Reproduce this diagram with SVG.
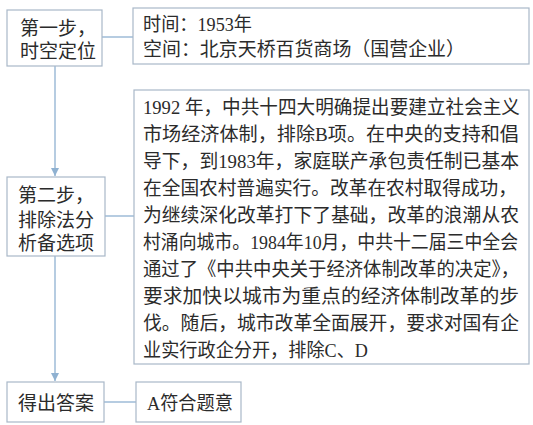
<svg xmlns="http://www.w3.org/2000/svg" width="533" height="425" viewBox="0 0 533 425">
<style>
.box{fill:#ffffff;stroke:#a9b8c8;stroke-width:1.2}
.t{font-family:"Liberation Serif","Noto Sans CJK SC",serif;font-size:19px;fill:#2b2b2b}
.c{stroke:#8fb1d1;stroke-width:1.3;fill:none}
</style>
<defs>
<marker id="ah" viewBox="0 0 10 10" refX="10" refY="5" markerWidth="8" markerHeight="8" markerUnits="userSpaceOnUse" orient="auto">
<path d="M0,0 L10,5 L0,10 Z" fill="#8fb1d1"/>
</marker>
</defs>
<rect width="533" height="425" fill="#ffffff"/>
<g id="connectors">
<line class="c" x1="102" y1="37" x2="133" y2="37"/>
<line class="c" x1="105" y1="216" x2="134" y2="216"/>
<line class="c" x1="104" y1="402" x2="136" y2="402"/>
<line class="c" x1="55" y1="66" x2="55" y2="176" marker-end="url(#ah)"/>
<line class="c" x1="55" y1="256" x2="55" y2="381" marker-end="url(#ah)"/>
</g>
<g id="step1">
<rect class="box" x="7" y="10" width="95" height="56"/>
<text class="t" x="20" y="35">第一步，</text>
<text class="t" x="20" y="58">时空定位</text>
</g>
<g id="info1">
<rect class="box" x="133" y="8" width="396" height="56"/>
<text class="t" x="143" y="31" textLength="109" lengthAdjust="spacingAndGlyphs">时间：1953年</text>
<text class="t" x="143" y="56" textLength="322" lengthAdjust="spacingAndGlyphs">空间：北京天桥百货商场（国营企业）</text>
</g>
<g id="step2">
<rect class="box" x="7" y="177" width="98" height="79"/>
<text class="t" x="18" y="202">第二步，</text>
<text class="t" x="18" y="227">排除法分</text>
<text class="t" x="18" y="250">析备选项</text>
</g>
<g id="info2">
<rect class="box" x="134" y="90" width="395" height="274"/>
<text class="t" x="143" y="114" textLength="377" lengthAdjust="spacingAndGlyphs">1992 年，中共十四大明确提出要建立社会主义</text>
<text class="t" x="143" y="141" textLength="376" lengthAdjust="spacingAndGlyphs">市场经济体制，排除B项。在中央的支持和倡</text>
<text class="t" x="143" y="168" textLength="376" lengthAdjust="spacingAndGlyphs">导下，到1983年，家庭联产承包责任制已基本</text>
<text class="t" x="143" y="195" textLength="374" lengthAdjust="spacingAndGlyphs">在全国农村普遍实行。改革在农村取得成功，</text>
<text class="t" x="143" y="222" textLength="376" lengthAdjust="spacingAndGlyphs">为继续深化改革打下了基础，改革的浪潮从农</text>
<text class="t" x="143" y="249" textLength="375" lengthAdjust="spacingAndGlyphs">村涌向城市。1984年10月，中共十二届三中全会</text>
<text class="t" x="143" y="276" textLength="376" lengthAdjust="spacingAndGlyphs">通过了《中共中央关于经济体制改革的决定》，</text>
<text class="t" x="143" y="303" textLength="376" lengthAdjust="spacingAndGlyphs">要求加快以城市为重点的经济体制改革的步</text>
<text class="t" x="143" y="330" textLength="376" lengthAdjust="spacingAndGlyphs">伐。随后，城市改革全面展开，要求对国有企</text>
<text class="t" x="143" y="357" textLength="225" lengthAdjust="spacingAndGlyphs">业实行政企分开，排除C、D</text>
</g>
<g id="step3">
<rect class="box" x="7" y="382" width="97" height="40"/>
<text class="t" x="18" y="410">得出答案</text>
</g>
<g id="answer">
<rect class="box" x="136" y="382" width="105" height="40"/>
<text class="t" x="147" y="410" textLength="86" lengthAdjust="spacingAndGlyphs">A符合题意</text>
</g>
</svg>
